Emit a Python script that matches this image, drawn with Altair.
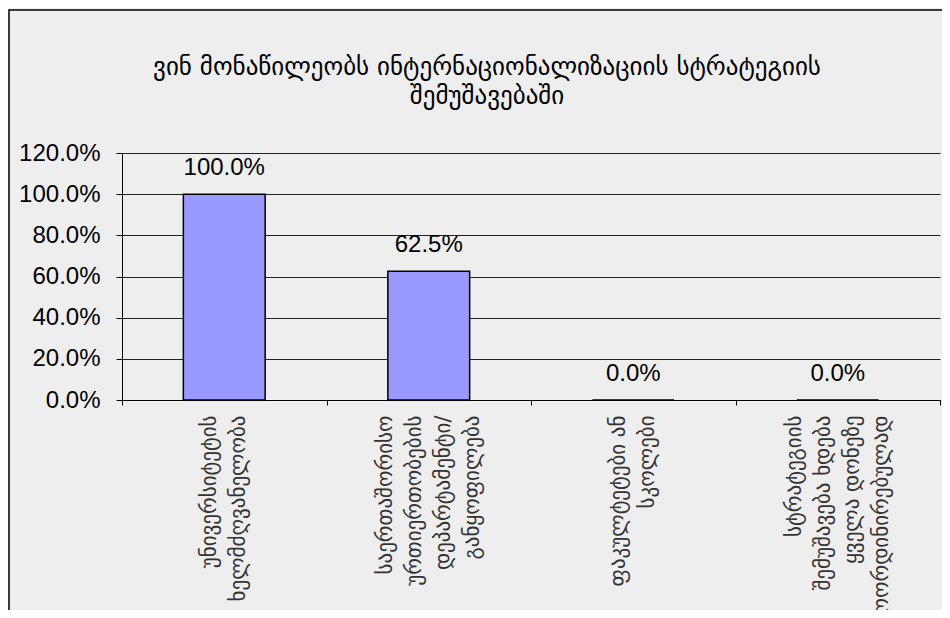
import altair as alt
import pandas as pd

title_lines = ["ვინ მონაწილეობს ინტერნაციონალიზაციის სტრატეგიის", "შემუშავებაში"]
categories = [
    "უნივერსიტეტის|ხელმძღვანელობა",
    "საერთაშორისო|ურთიერთობების|დეპარტამენტი/|განყოფილება",
    "ფაკულტეტები ან|სკოლები",
    "სტრატეგიის|შემუშავება ხდება|ყველა დონეზე|კოორდინირებულად",
]
values = [1.0, 0.625, 0.0, 0.0]
y_ticks = [0.0, 0.2, 0.4, 0.6, 0.8, 1.0, 1.2]

df = pd.DataFrame({"cat": categories, "value": values})

W, H = 818, 247
LH = 29

x_enc = alt.X(
    "cat:N",
    sort=None,
    title=None,
    scale=alt.Scale(paddingInner=0, paddingOuter=0),
    axis=alt.Axis(
        labelExpr="split(datum.label, '|')",
        labelAngle=270,
        labelAlign="right",
        labelBaseline="middle",
        labelPadding=10,
        labelFont="DejaVu Sans",
        labelFontSize=21,
        labelColor="#333333",
        labelLineHeight=LH,
        labelLimit=0,
        labelOffset={
            "condition": {"test": "length(split(datum.label, '|')) > 2", "value": -1.5 * LH},
            "value": -0.5 * LH,
        },
        tickBand="extent",
        tickSize=5,
        tickColor="#000000",
        domainColor="#000000",
        grid=False,
    ),
)

y_enc = alt.Y(
    "value:Q",
    title=None,
    scale=alt.Scale(domain=[0, 1.2], nice=False),
    axis=alt.Axis(
        values=y_ticks,
        format=".1%",
        labelFont="Liberation Sans",
        labelFontSize=24,
        labelColor="#000000",
        labelPadding=16,
        tickSize=6,
        tickColor="#000000",
        domainColor="#000000",
        gridColor="#222222",
        gridWidth=1,
    ),
)

frame = alt.Chart(pd.DataFrame({"k": [0]})).mark_rect(
    fill=None, stroke="#000000", strokeWidth=1.5
).encode(
    x=alt.value(-113),
    x2=alt.value(830),
    y=alt.value(-143),
    y2=alt.value(480),
)

title = alt.Chart(pd.DataFrame({"k": [0]})).mark_text(
    font="DejaVu Sans", fontSize=25, color="#000000", align="center",
    baseline="middle", lineHeight=LH,
).encode(
    x=alt.value(365),
    y=alt.value(-86),
    text=alt.value(title_lines),
)

bars = alt.Chart(df).mark_bar(
    color="#9999ff", stroke="#000000", strokeWidth=1.5,
    width=alt.RelativeBandSize(0.4),
).encode(x=x_enc, y=y_enc)

labels = alt.Chart(df).mark_text(
    font="Liberation Sans", fontSize=24, color="#000000", baseline="alphabetic", dy=-19
).encode(
    x=alt.X("cat:N", sort=None),
    y="value:Q",
    text=alt.Text("value:Q", format=".1%"),
)

chart = alt.layer(frame, title, bars, labels).properties(
    width=W,
    height=H,
    padding={"left": 114, "top": 145, "right": 2, "bottom": 210},
    autosize=alt.AutoSizeParams(type="none"),
    background="#eeeeee",
).configure_view(stroke=None)

chart.save("out.html", embed_options={"renderer": "svg", "actions": False})
